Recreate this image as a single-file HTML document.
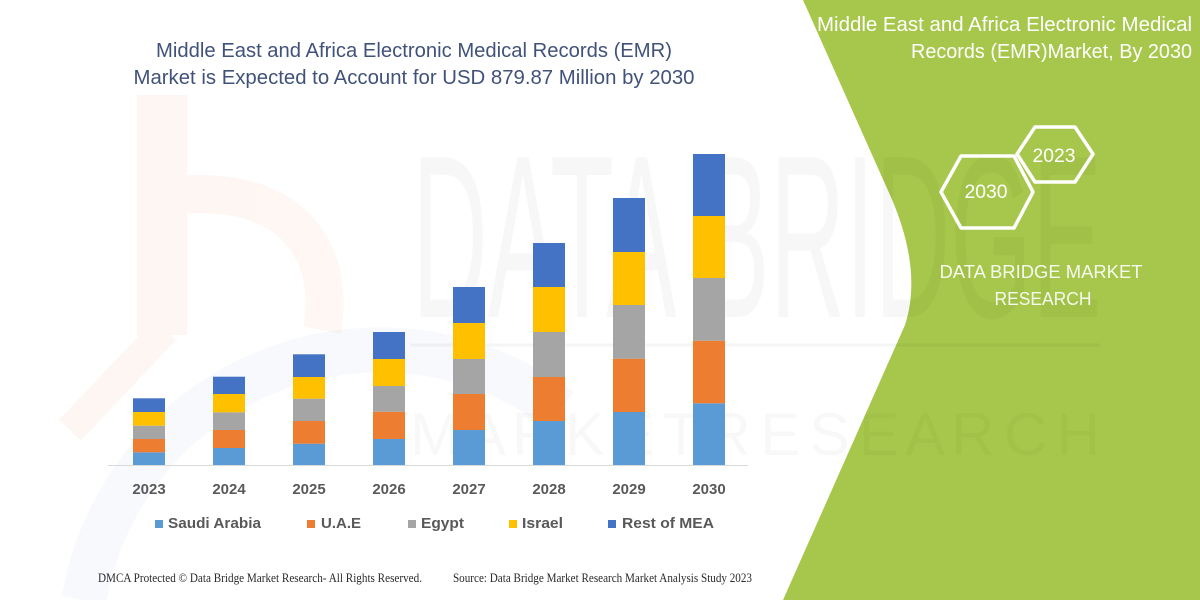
<!DOCTYPE html>
<html>
<head>
<meta charset="utf-8">
<style>
  html,body{margin:0;padding:0;background:#fff;width:1200px;height:600px;overflow:hidden;}
  svg{display:block;}
  text{font-family:"Liberation Sans", sans-serif;}
  .serif{font-family:"Liberation Serif", serif;}
</style>
</head>
<body>
<svg width="1200" height="600" viewBox="0 0 1200 600" xmlns="http://www.w3.org/2000/svg">
  <rect width="1200" height="600" fill="#ffffff"/>

  <!-- green panel -->
  <path d="M803,0 L890,195 C910,240 918,285 905,325 L783,600 L1200,600 L1200,0 Z" fill="#a6c74b"/>

  <!-- faint logo watermark (left) -->
  <g opacity="0.06">
    <rect x="137" y="95" width="50" height="240" fill="#ed7d31"/>
    <path d="M180,195 C300,185 335,260 322,330" fill="none" stroke="#ed7d31" stroke-width="38"/>
    <path d="M165,330 L70,430" fill="none" stroke="#ed7d31" stroke-width="30"/>
  </g>
  <path d="M84,600 A300,300 0 0 1 560,410" fill="none" stroke="#4472c4" stroke-width="45" opacity="0.045"/>

  <!-- faint DATA BRIDGE watermark -->
  <text x="412" y="317" font-size="232" textLength="690" lengthAdjust="spacingAndGlyphs" fill="#000" opacity="0.028">DATA BRIDGE</text>
  <line x1="410" y1="345" x2="1100" y2="345" stroke="#000" stroke-width="3" opacity="0.035"/>
  <text x="410" y="455" font-size="60" textLength="690" lengthAdjust="spacing" fill="#000" opacity="0.025">M A R K E T R E S E A R C H</text>

  <!-- main title -->
  <text x="414" y="57" font-size="20" fill="#41527a" text-anchor="middle" textLength="516" lengthAdjust="spacingAndGlyphs">Middle East and Africa Electronic Medical Records (EMR)</text>
  <text x="414" y="84" font-size="20" fill="#41527a" text-anchor="middle" textLength="561" lengthAdjust="spacingAndGlyphs">Market is Expected to Account for USD 879.87 Million by 2030</text>

  <!-- axis baseline -->
  <line x1="108" y1="465.5" x2="748" y2="465.5" stroke="#d9d9d9" stroke-width="1"/>

  <!-- 2023 -->
  <g>
    <rect x="133" y="452.3" width="32" height="12.7" fill="#5b9bd5"/>
    <rect x="133" y="439" width="32" height="13.3" fill="#ed7d31"/>
    <rect x="133" y="425.7" width="32" height="13.3" fill="#a5a5a5"/>
    <rect x="133" y="412" width="32" height="13.7" fill="#ffc000"/>
    <rect x="133" y="398.3" width="32" height="13.7" fill="#4472c4"/>
  </g>
  <!-- 2024 -->
  <g>
    <rect x="213" y="448" width="32" height="17" fill="#5b9bd5"/>
    <rect x="213" y="430" width="32" height="18" fill="#ed7d31"/>
    <rect x="213" y="412.3" width="32" height="17.7" fill="#a5a5a5"/>
    <rect x="213" y="394" width="32" height="18.3" fill="#ffc000"/>
    <rect x="213" y="376.7" width="32" height="17.3" fill="#4472c4"/>
  </g>
  <!-- 2025 -->
  <g>
    <rect x="293" y="443.7" width="32" height="21.3" fill="#5b9bd5"/>
    <rect x="293" y="421" width="32" height="22.7" fill="#ed7d31"/>
    <rect x="293" y="398.7" width="32" height="22.3" fill="#a5a5a5"/>
    <rect x="293" y="377" width="32" height="21.7" fill="#ffc000"/>
    <rect x="293" y="354.3" width="32" height="22.7" fill="#4472c4"/>
  </g>
  <!-- 2026 -->
  <g>
    <rect x="373" y="439" width="32" height="26" fill="#5b9bd5"/>
    <rect x="373" y="411.7" width="32" height="27.3" fill="#ed7d31"/>
    <rect x="373" y="386" width="32" height="25.7" fill="#a5a5a5"/>
    <rect x="373" y="359" width="32" height="27" fill="#ffc000"/>
    <rect x="373" y="332" width="32" height="27" fill="#4472c4"/>
  </g>
  <!-- 2027 -->
  <g>
    <rect x="453" y="430" width="32" height="35" fill="#5b9bd5"/>
    <rect x="453" y="394" width="32" height="36" fill="#ed7d31"/>
    <rect x="453" y="359" width="32" height="35" fill="#a5a5a5"/>
    <rect x="453" y="323" width="32" height="36" fill="#ffc000"/>
    <rect x="453" y="287" width="32" height="36" fill="#4472c4"/>
  </g>
  <!-- 2028 -->
  <g>
    <rect x="533" y="421" width="32" height="44" fill="#5b9bd5"/>
    <rect x="533" y="377" width="32" height="44" fill="#ed7d31"/>
    <rect x="533" y="332" width="32" height="45" fill="#a5a5a5"/>
    <rect x="533" y="287" width="32" height="45" fill="#ffc000"/>
    <rect x="533" y="243" width="32" height="44" fill="#4472c4"/>
  </g>
  <!-- 2029 -->
  <g>
    <rect x="613" y="412" width="32" height="53" fill="#5b9bd5"/>
    <rect x="613" y="358.7" width="32" height="53.3" fill="#ed7d31"/>
    <rect x="613" y="305" width="32" height="53.7" fill="#a5a5a5"/>
    <rect x="613" y="252" width="32" height="53" fill="#ffc000"/>
    <rect x="613" y="198" width="32" height="54" fill="#4472c4"/>
  </g>
  <!-- 2030 -->
  <g>
    <rect x="693" y="403.3" width="32" height="61.7" fill="#5b9bd5"/>
    <rect x="693" y="340.7" width="32" height="62.6" fill="#ed7d31"/>
    <rect x="693" y="278" width="32" height="62.7" fill="#a5a5a5"/>
    <rect x="693" y="216" width="32" height="62" fill="#ffc000"/>
    <rect x="693" y="154" width="32" height="62" fill="#4472c4"/>
  </g>

  <!-- x labels -->
  <g font-size="15" font-weight="bold" fill="#595959" text-anchor="middle">
    <text x="149" y="494">2023</text>
    <text x="229" y="494">2024</text>
    <text x="309" y="494">2025</text>
    <text x="389" y="494">2026</text>
    <text x="469" y="494">2027</text>
    <text x="549" y="494">2028</text>
    <text x="629" y="494">2029</text>
    <text x="709" y="494">2030</text>
  </g>

  <!-- legend -->
  <g font-size="15" font-weight="bold" fill="#595959">
    <rect x="155" y="520" width="8" height="8" fill="#5b9bd5"/>
    <text x="168" y="528" textLength="93" lengthAdjust="spacingAndGlyphs">Saudi Arabia</text>
    <rect x="307" y="520" width="8" height="8" fill="#ed7d31"/>
    <text x="321" y="528" textLength="40" lengthAdjust="spacingAndGlyphs">U.A.E</text>
    <rect x="408" y="520" width="8" height="8" fill="#a5a5a5"/>
    <text x="421" y="528" textLength="43" lengthAdjust="spacingAndGlyphs">Egypt</text>
    <rect x="509" y="520" width="8" height="8" fill="#ffc000"/>
    <text x="522" y="528" textLength="41" lengthAdjust="spacingAndGlyphs">Israel</text>
    <rect x="608" y="520" width="8" height="8" fill="#4472c4"/>
    <text x="622" y="528" textLength="92" lengthAdjust="spacingAndGlyphs">Rest of MEA</text>
  </g>

  <!-- footer -->
  <text class="serif" x="98" y="582" font-size="12.5" fill="#2b2b2b" textLength="324" lengthAdjust="spacingAndGlyphs">DMCA Protected © Data Bridge Market Research-  All Rights Reserved.</text>
  <text class="serif" x="453" y="582" font-size="12.5" fill="#2b2b2b" textLength="299" lengthAdjust="spacingAndGlyphs">Source: Data Bridge Market Research  Market Analysis Study 2023</text>

  <!-- green panel content -->
  <text x="1192" y="31" font-size="20" fill="#ffffff" text-anchor="end" textLength="375" lengthAdjust="spacingAndGlyphs">Middle East and Africa Electronic Medical</text>
  <text x="1192" y="58" font-size="20" fill="#ffffff" text-anchor="end" textLength="281" lengthAdjust="spacingAndGlyphs">Records (EMR)Market, By 2030</text>

  <polygon points="1017,154 1035,127 1075,127 1093,154 1075,182 1035,182" fill="none" stroke="#ffffff" stroke-width="3.5" stroke-linejoin="round"/>
  <polygon points="941,192 961,156 1014,156 1033,192 1014,228 961,228" fill="none" stroke="#ffffff" stroke-width="3.5" stroke-linejoin="round"/>
  <text x="1054" y="162" font-size="19" fill="#ffffff" text-anchor="middle" textLength="43" lengthAdjust="spacingAndGlyphs">2023</text>
  <text x="986" y="198" font-size="19" fill="#ffffff" text-anchor="middle" textLength="43" lengthAdjust="spacingAndGlyphs">2030</text>

  <text x="1041" y="278" font-size="18.5" fill="#f6f9ee" text-anchor="middle" textLength="203" lengthAdjust="spacingAndGlyphs">DATA BRIDGE MARKET</text>
  <text x="1043" y="305" font-size="18.5" fill="#f6f9ee" text-anchor="middle" textLength="97" lengthAdjust="spacingAndGlyphs">RESEARCH</text>
</svg>
</body>
</html>
